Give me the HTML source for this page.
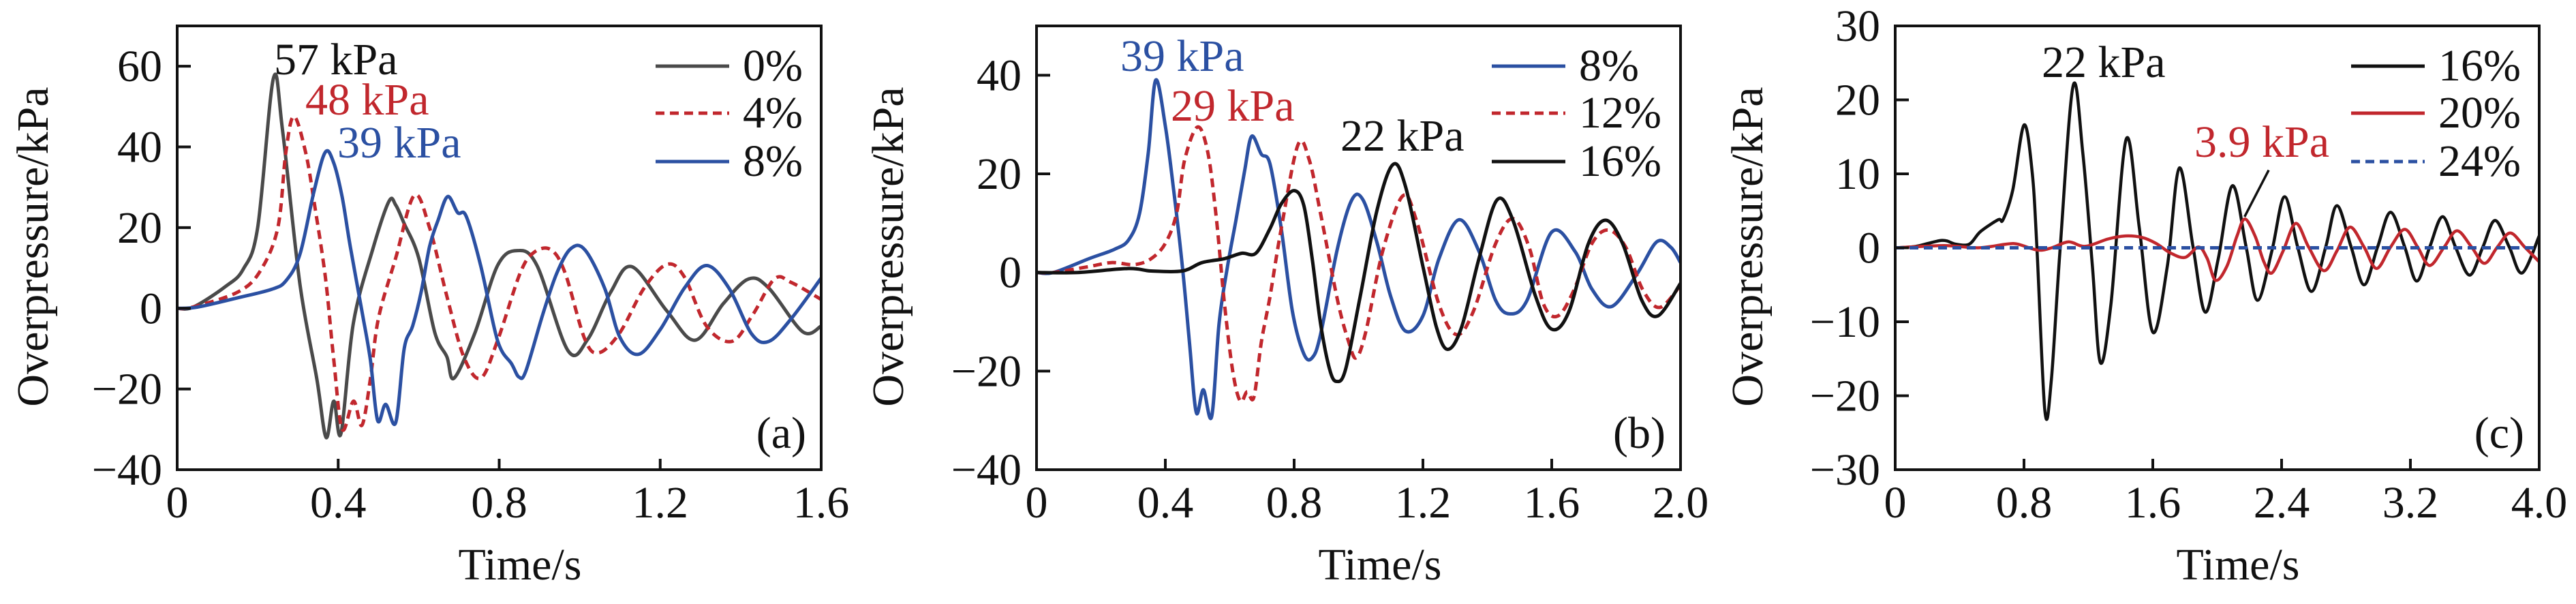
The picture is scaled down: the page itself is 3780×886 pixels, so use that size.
<!DOCTYPE html>
<html><head><meta charset="utf-8"><style>
html,body{margin:0;padding:0;background:#fff;overflow:hidden;}
svg{display:block;}
text{font-family:"Liberation Serif",serif;}
</style></head><body>
<svg id="chart" width="3780" height="886" viewBox="0 0 3780 886" xmlns="http://www.w3.org/2000/svg"></svg>
<script>
// ---------- Panel (a) data ----------
const aT0 = [0,0.04,0.12,0.164,0.2,0.239,0.262,0.305,0.347,0.37,0.389,0.407,0.438,0.487,0.526,0.543,0.564,0.6,0.64,0.67,0.688,0.74,0.796,0.845,0.894,0.971,1.02,1.077,1.13,1.217,1.287,1.357,1.42,1.47,1.554,1.6];
const aV0 = [0,0.3,5.4,9.7,20,57,44,6,-17.5,-32,-23,-31,-3.5,15,26.5,25.6,21,12.5,-6,-12,-17.3,-6,10.6,14.3,10.6,-10.5,-7.7,4,10.3,-0.7,-7.9,1.2,7.3,5,-5.8,-4.4];
const aT4 = [0,0.038,0.15,0.206,0.25,0.27,0.29,0.319,0.34,0.368,0.389,0.41,0.438,0.459,0.48,0.5,0.543,0.589,0.627,0.67,0.712,0.754,0.796,0.852,0.887,0.929,0.964,1.013,1.048,1.1,1.16,1.217,1.26,1.315,1.378,1.43,1.484,1.526,1.6];
const aV4 = [0,0.3,4,9.2,20,38.7,47.6,38.7,26.5,7.8,-12.8,-30,-23,-29,-17.5,-2.5,12.5,28,20,3,-12,-17.3,-8,8.7,13.9,14.5,8.7,-7.7,-11,-6,5,10.9,7.8,-4.4,-8.2,-1.6,7.3,6.4,2.2];
const aT8 = [0,0.05,0.15,0.234,0.27,0.305,0.34,0.368,0.389,0.41,0.43,0.459,0.48,0.498,0.518,0.543,0.564,0.585,0.606,0.627,0.648,0.672,0.697,0.718,0.754,0.796,0.831,0.849,0.866,0.908,0.943,0.978,1.013,1.062,1.1,1.146,1.2,1.26,1.315,1.371,1.427,1.47,1.526,1.6];
const aV8 = [0,0.3,2.6,4.7,6.8,13.4,29,38.7,36,27.5,15.3,-0.7,-12.8,-27.8,-23.8,-28.3,-10,-4.4,4,15.3,21.8,27.7,23.7,22.8,10.6,-8,-13.8,-17,-15.6,-1.6,8.7,14.8,14.5,5,-7.2,-11.4,-5.3,5,10.6,5,-6.3,-8.2,-2.5,7.5];
// ---------- Panel (b) data ----------
const bT8 = [0,0.053,0.163,0.242,0.286,0.32,0.347,0.37,0.4,0.426,0.453,0.475,0.496,0.518,0.544,0.567,0.593,0.619,0.646,0.668,0.698,0.725,0.76,0.795,0.83,0.856,0.882,0.935,0.979,1.014,1.058,1.1,1.146,1.2,1.25,1.312,1.374,1.426,1.47,1.523,1.6,1.672,1.725,1.786,1.865,1.926,1.97,2.0];
const bV8 = [0,0,2.8,4.7,6.6,12,24.3,39,29.7,16.6,1.2,-14.2,-28.4,-23.8,-29.2,-10.3,1.2,10.5,20.5,27.6,24,22,8.9,-8,-16.5,-17.3,-12.6,5,14.7,14.7,5.9,-4.9,-11.9,-8.8,2.8,10.7,4.3,-5.7,-8.4,-5.7,8.2,4.3,-3.4,-6.9,-0.3,6.2,5.1,2];
const bT12 = [0,0.053,0.163,0.233,0.304,0.356,0.4,0.435,0.46,0.5,0.532,0.558,0.584,0.61,0.633,0.654,0.675,0.698,0.725,0.76,0.812,0.847,0.882,0.935,0.97,0.993,1.023,1.075,1.137,1.18,1.25,1.304,1.356,1.426,1.48,1.53,1.575,1.62,1.67,1.725,1.777,1.83,1.882,1.935,2.0];
const bV12 = [0,0,1.2,2,1.6,2.8,5.9,12,22.8,29.5,24.3,11.2,-6.5,-20.3,-26.1,-24.2,-25.3,-14.2,-4.9,8.9,25.9,22.8,12,-5.7,-14.2,-17.3,-11.9,4.3,15.5,10.5,-6.5,-12.6,-8,5.9,10.9,5.1,-6.5,-8.8,-3.4,5.9,8.6,5.1,-3.4,-7.1,-2.6];
const bT16 = [0,0.128,0.286,0.356,0.453,0.514,0.584,0.637,0.681,0.725,0.76,0.8,0.83,0.856,0.882,0.91,0.932,0.96,1.005,1.058,1.107,1.146,1.2,1.242,1.277,1.32,1.374,1.43,1.48,1.55,1.6,1.653,1.714,1.767,1.82,1.88,1.93,2.0];
const bV16 = [0,0,0.8,0.3,0.3,2,2.8,3.9,3.9,8.9,13.9,16.6,13.6,2.8,-10.3,-19.6,-22.1,-19.6,-4.9,12.8,21.9,17.4,1.2,-11.1,-15.6,-11.1,2.8,14.7,10.5,-4.9,-11.5,-8,5.9,10.6,5.9,-5.7,-8.8,-2.2];
// ---------- Panel (c) data ----------
const cT16 = [0,0.13,0.29,0.375,0.46,0.53,0.64,0.67,0.73,0.8,0.85,0.88,0.93,0.97,1.025,1.105,1.165,1.225,1.274,1.34,1.435,1.516,1.6,1.69,1.765,1.85,1.926,2.007,2.095,2.18,2.25,2.34,2.418,2.5,2.586,2.674,2.744,2.832,2.912,2.996,3.077,3.165,3.24,3.32,3.4,3.48,3.568,3.65,3.726,3.814,3.894,4.0];
const cV16 = [0,0.2,1,0.5,0.5,2.2,3.8,3.8,7.8,16.6,10.4,0.1,-22.1,-17.8,0.1,21.9,12.9,-2.5,-15.5,-7.6,14.7,2.7,-11.4,-2.5,10.8,0.1,-8.7,-1.4,8.4,0.1,-7.1,-0.4,6.9,0.1,-5.9,0.1,5.7,0.1,-5,0.1,4.8,0.1,-4.5,0.1,4.2,0.1,-3.7,0.1,3.7,0.1,-3.4,1.6];
const cT20 = [0,0.305,0.516,0.69,0.76,0.884,0.972,1.077,1.18,1.323,1.43,1.533,1.62,1.71,1.8,1.884,1.937,1.99,2.06,2.123,2.172,2.235,2.29,2.34,2.41,2.488,2.568,2.663,2.744,2.825,2.912,2.99,3.077,3.165,3.245,3.32,3.41,3.49,3.58,3.66,3.74,3.82,3.91,4.0];
const cV20 = [0,0.3,0,0.5,0.5,-0.3,0,0.8,0.2,1.2,1.6,1.4,0.6,-0.7,-1.3,0.1,-1.4,-4.4,-2.5,1.6,3.9,1.6,-1.9,-3.4,-0.4,3.3,0.1,-3.1,-0.4,2.8,0.1,-2.8,0.1,2.5,0.1,-2.4,0.1,2.3,0.1,-2.1,0.1,2,0.1,-1.9];
const cT24 = [0,4.0];
const cV24 = [0,0];
const cLeaderT = [2.17,2.32];
const cLeaderV = [4.2,10.5];
// ---------- tick labels ----------
const aXTicks = [0,0.4,0.8,1.2,1.6];
const aXLabels = ["0","0.4","0.8","1.2","1.6"];
const aYTicks = [-40,-20,0,20,40,60];
const aYLabels = ["\u221240","\u221220","0","20","40","60"];
const bXTicks = [0,0.4,0.8,1.2,1.6,2.0];
const bXLabels = ["0","0.4","0.8","1.2","1.6","2.0"];
const bYTicks = [-40,-20,0,20,40];
const bYLabels = ["\u221240","\u221220","0","20","40"];
const cXTicks = [0,0.8,1.6,2.4,3.2,4.0];
const cXLabels = ["0","0.8","1.6","2.4","3.2","4.0"];
const cYTicks = [-30,-20,-10,0,10,20,30];
const cYLabels = ["\u221230","\u221220","\u221210","0","10","20","30"];

const NS="http://www.w3.org/2000/svg";
const svg=document.getElementById('chart');
const GRAY="#4a4a4a",RED="#c1272d",BLUE="#2b50a2",BLACK="#111";
const FS=66;
const T=38,B=689;

function mk(tag,parent){const e=document.createElementNS(NS,tag);parent.appendChild(e);return e;}
function txt(parent,s,x,y,color,anchor){
  const t=mk('text',parent);
  t.setAttribute('x',x);t.setAttribute('y',y);
  t.setAttribute('font-size',FS);t.setAttribute('fill',color||BLACK);
  if(anchor)t.setAttribute('text-anchor',anchor);
  t.textContent=s;return t;
}
function smoothPath(pts){
  let d='M'+pts[0][0].toFixed(1)+','+pts[0][1].toFixed(1);
  for(let i=0;i<pts.length-1;i++){
    const p0=pts[Math.max(0,i-1)],p1=pts[i],p2=pts[i+1],p3=pts[Math.min(pts.length-1,i+2)];
    const c1x=p1[0]+(p2[0]-p0[0])/6,c1y=p1[1]+(p2[1]-p0[1])/6;
    const c2x=p2[0]-(p3[0]-p1[0])/6,c2y=p2[1]-(p3[1]-p1[1])/6;
    d+=' C'+c1x.toFixed(1)+','+c1y.toFixed(1)+' '+c2x.toFixed(1)+','+c2y.toFixed(1)+' '+p2[0].toFixed(1)+','+p2[1].toFixed(1);
  }
  return d;
}
function panel(id,cfg){
  const g=mk('g',svg);
  
  
  const L=cfg.L,R=cfg.R;
  const sx=t=>L+(t-cfg.x0)/(cfg.x1-cfg.x0)*(R-L);
  const sy=v=>B-(v-cfg.y0)/(cfg.y1-cfg.y0)*(B-T);
  const cp=mk('clipPath',g);cp.setAttribute('id','clip-'+id);
  const cr=mk('rect',cp);cr.setAttribute('x',L);cr.setAttribute('y',T);cr.setAttribute('width',R-L);cr.setAttribute('height',B-T);
  const sg=mk('g',g);sg.setAttribute('clip-path','url(#clip-'+id+')');
  
  
  cfg.series.forEach(s=>{
    const pts=s.t.map((t,i)=>[sx(t),sy(s.v[i])]);
    const p=mk('path',sg);
    p.setAttribute('d',s.straight?('M'+pts.map(q=>q[0]+','+q[1]).join(' L')):smoothPath(pts));
    p.setAttribute('fill','none');p.setAttribute('stroke',s.color);p.setAttribute('stroke-width',s.w||5);
    p.setAttribute('stroke-linejoin','round');
    if(s.dash)p.setAttribute('stroke-dasharray',s.dash);
    
    
  });
  const fr=mk('rect',g);fr.setAttribute('x',L);fr.setAttribute('y',T);fr.setAttribute('width',R-L);fr.setAttribute('height',B-T);
  fr.setAttribute('fill','none');fr.setAttribute('stroke',BLACK);fr.setAttribute('stroke-width',4);
  
  
  cfg.xt.forEach((t,i)=>{
    const x=sx(t);
    if(i>0&&i<cfg.xt.length-1){const l=mk('line',g);l.setAttribute('x1',x);l.setAttribute('x2',x);l.setAttribute('y1',B);l.setAttribute('y2',B-16);l.setAttribute('stroke',BLACK);l.setAttribute('stroke-width',4);
      
      }
    const tl=txt(g,cfg.xl[i],x,759,BLACK,'middle');
    
    
  });
  cfg.yt.forEach((v,i)=>{
    const y=sy(v);
    if(v!==cfg.y0&&v!==cfg.y1){const l=mk('line',g);l.setAttribute('x1',L);l.setAttribute('x2',L+20);l.setAttribute('y1',y);l.setAttribute('y2',y);l.setAttribute('stroke',BLACK);l.setAttribute('stroke-width',4);
      
      }
    const tl=txt(g,cfg.yl[i],L-22,y+22,BLACK,'end');
    
    
  });
  const yt=mk('text',g);
  yt.setAttribute('transform','translate('+cfg.ylx+',362) rotate(-90)');
  yt.setAttribute('font-size',FS);yt.setAttribute('text-anchor','middle');yt.setAttribute('fill',BLACK);
  yt.textContent='Overpressure/kPa';
  
  
  const xt=txt(g,'Time/s',cfg.xtx,850,BLACK,'middle');
  
  
  const pl=txt(g,'('+id+')',R-22,657,BLACK,'end');
  
  
  cfg.legend.forEach((e,i)=>{
    const y=[97,166,237][i];
    const l=mk('line',g);l.setAttribute('x1',cfg.lgx);l.setAttribute('x2',cfg.lgx+108);l.setAttribute('y1',y);l.setAttribute('y2',y);
    l.setAttribute('stroke',e.color);l.setAttribute('stroke-width',5);if(e.dash)l.setAttribute('stroke-dasharray',e.dash);
    
    
    const t=txt(g,e.label,cfg.lgx+128,y+21,BLACK);
    
    
  });
  cfg.ann.forEach(a=>{
    const t=txt(g,a.s,a.x,a.y,a.c);
    
    
  });
  if(cfg.leader){
    const l=mk('line',g);
    l.setAttribute('x1',sx(cfg.leader.t[0]));l.setAttribute('y1',sy(cfg.leader.v[0]));
    l.setAttribute('x2',sx(cfg.leader.t[1]));l.setAttribute('y2',sy(cfg.leader.v[1]));
    l.setAttribute('stroke',BLACK);l.setAttribute('stroke-width',3.5);
    
    
  }
}
const DASH="13 8";
panel('a',{L:260,R:1205,x0:0,x1:1.6,y0:-40,y1:70,xt:aXTicks,xl:aXLabels,yt:aYTicks,yl:aYLabels,ylx:70,xtx:763,lgx:962,
  series:[{t:aT0,v:aV0,color:GRAY,name:'series-0pct'},{t:aT4,v:aV4,color:RED,dash:DASH,name:'series-4pct'},{t:aT8,v:aV8,color:BLUE,name:'series-8pct'}],
  legend:[{label:'0%',color:GRAY},{label:'4%',color:RED,dash:DASH},{label:'8%',color:BLUE}],
  ann:[{s:'57 kPa',x:402,y:109,c:BLACK},{s:'48 kPa',x:448,y:168,c:RED},{s:'39 kPa',x:495,y:231,c:BLUE}]});
panel('b',{L:1521,R:2466,x0:0,x1:2.0,y0:-40,y1:50,xt:bXTicks,xl:bXLabels,yt:bYTicks,yl:bYLabels,ylx:1325,xtx:2025,lgx:2189,
  series:[{t:bT8,v:bV8,color:BLUE,name:'series-8pct'},{t:bT12,v:bV12,color:RED,dash:DASH,name:'series-12pct'},{t:bT16,v:bV16,color:BLACK,name:'series-16pct'}],
  legend:[{label:'8%',color:BLUE},{label:'12%',color:RED,dash:DASH},{label:'16%',color:BLACK}],
  ann:[{s:'39 kPa',x:1644,y:104,c:BLUE},{s:'29 kPa',x:1718,y:177,c:RED},{s:'22 kPa',x:1967,y:221,c:BLACK}]});
panel('c',{L:2781,R:3726,x0:0,x1:4.0,y0:-30,y1:30,xt:cXTicks,xl:cXLabels,yt:cYTicks,yl:cYLabels,ylx:2586,xtx:3284,lgx:3450,
  series:[{t:cT16,v:cV16,color:BLACK,w:4.5,name:'series-16pct'},{t:cT20,v:cV20,color:RED,w:4.5,name:'series-20pct'},{t:cT24,v:cV24,color:BLUE,dash:DASH,straight:true,name:'series-24pct'}],
  legend:[{label:'16%',color:BLACK},{label:'20%',color:RED},{label:'24%',color:BLUE,dash:DASH}],
  ann:[{s:'22 kPa',x:2996,y:113,c:BLACK},{s:'3.9 kPa',x:3220,y:230,c:RED}],
  leader:{t:cLeaderT,v:cLeaderV}});
</script>
</body></html>
